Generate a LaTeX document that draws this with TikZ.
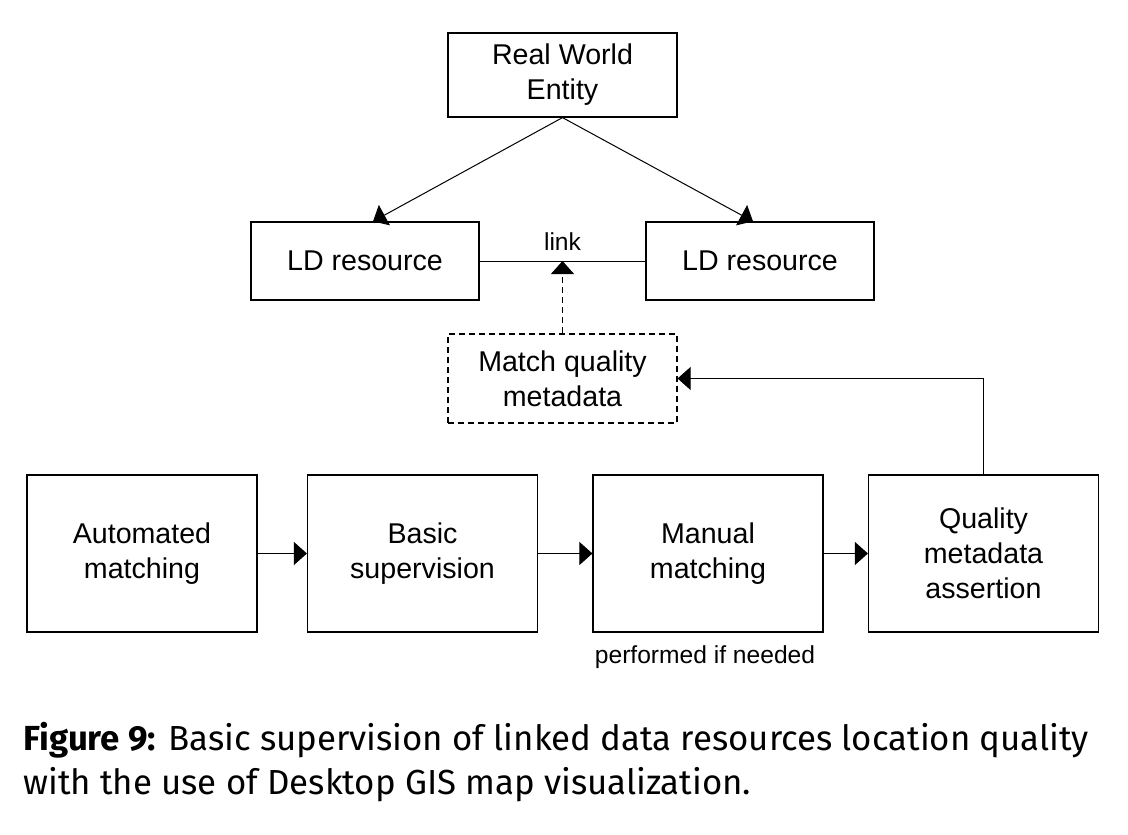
\documentclass[tikz,border=0pt]{standalone}
\usepackage{fontspec}
\setmainfont{Liberation Sans}
\newfontfamily\capfont{Fira Sans}
\usetikzlibrary{arrows.meta,calc}
\tikzstyle{box}=[rectangle,draw,line width=0.6pt,align=center,inner sep=0pt,font=\fontsize{14.3}{17.5}\selectfont]
\tikzstyle{ld box}=[box,minimum width=114pt,minimum height=39pt]
\tikzstyle{step box}=[box,minimum width=115pt,minimum height=78.5pt]
\tikzstyle{meta box}=[box,dashed,dash pattern=on 3pt off 2pt,minimum width=114.5pt,minimum height=44.5pt]
\tikzstyle{edge}=[draw,line width=0.5pt,-]
\tikzstyle{arrow edge}=[draw,line width=0.5pt,-{Triangle[length=6.5pt,width=11.5pt]}]
\tikzstyle{note}=[font=\fontsize{12.3}{14}\selectfont,inner sep=0pt]
\tikzstyle{caption line}=[font=\capfont\fontsize{17.4}{21.5}\selectfont,inner sep=0pt,anchor=base west]

\begin{document}
\begin{tikzpicture}[x=0.5pt,y=-0.5pt]
    \useasboundingbox (0,0) rectangle (1128,834);

    % top part
    \node[box,minimum width=114.5pt,minimum height=42pt] (rw) at (562.5,75) {Real World\\Entity};
    \node[ld box] (ldl) at (365,261) {LD resource};
    \node[ld box] (ldr) at (760,261) {LD resource};
    \node[meta box] (mq) at (562.5,378.5) {Match quality\\metadata};

    \path[arrow edge] (rw.south) -- ([xshift=4pt]ldl.north);
    \path[arrow edge] (rw.south) -- ([xshift=-3.5pt]ldr.north);
    \path[edge] (ldl.east) -- node[note,above=5pt] {link} (ldr.west);
    \path[arrow edge,dashed,dash pattern=on 3pt off 2pt] (mq.north) -- (mq.north |- ldl.east);

    % process steps
    \node[step box] (s1) at (142,553.5) {Automated\\matching};
    \node[step box] (s2) at (422.5,553.5) {Basic\\supervision};
    \node[step box] (s3) at (708,553.5) {Manual\\matching};
    \node[step box] (s4) at (983.5,553.5) {Quality\\metadata\\assertion};
    \foreach \i [count=\j from 2] in {1,2,3}{
        \path[arrow edge] (s\i.east) -- (s\j.west);
    }
    \path[arrow edge] (s4.north) |- (mq.east);
    \node[note,anchor=base] (needed) at (705,663) {performed if needed};

    % caption
    \node[caption line] (cap1) at (23,750) {\textbf{Figure 9:} Basic supervision of linked data resources location quality};
    \node[caption line] (cap2) at (23,794) {with the use of Desktop GIS map visualization.};
\end{tikzpicture}
\end{document}
